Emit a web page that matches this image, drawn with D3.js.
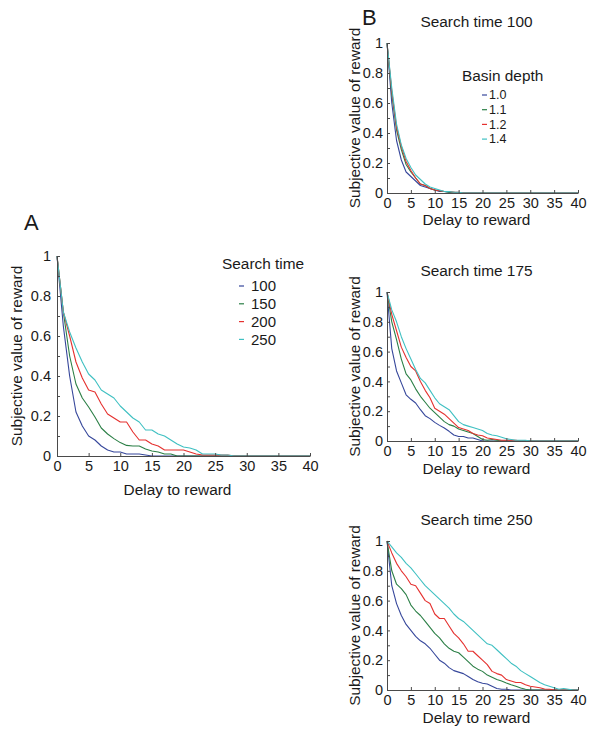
<!DOCTYPE html>
<html>
<head>
<meta charset="utf-8">
<script src="https://cdn.jsdelivr.net/npm/d3@7"></script>
<style>
  html, body { margin: 0; padding: 0; background: #fff; }
  svg { display: block; font-family: "Liberation Sans", Arial, sans-serif; }
  .lab { font-size: 15.4px; fill: #1a1a1a; }
  .leg { font-size: 15px; fill: #1a1a1a; }
  .legs { font-size: 12.5px; fill: #1a1a1a; }
</style>
</head>
<body>
<svg id="chart" width="592" height="734"></svg>
<script>
// ---------------- data ----------------
const delays = [0,1,2,3,4,5,6,7,8,9,10,11,12,13,14,15,16,17,18,19,20,21,22,23,24,25,26,27,28,29,30,31,32,33,34,35,36,37,38,39,40];

const xTicks = [0,5,10,15,20,25,30,35,40];
const yTicks = [0,0.2,0.4,0.6,0.8,1];
const yMinorTicks = [0.1,0.3,0.5,0.7,0.9];

// Panel A: search times
const searchTimes = ["100","150","200","250"];
const A_100 = [1,0.65,0.40,0.22,0.15,0.10,0.08,0.05,0.03,0.02,0.02,0.01,0.01,0.01,0.005,0,0,0,0,0,0,0,0,0,0,0,0,0,0,0,0,0,0,0,0,0,0,0,0,0,0];
const A_150 = [1,0.72,0.50,0.36,0.29,0.245,0.195,0.14,0.11,0.087,0.067,0.053,0.05,0.05,0.035,0.025,0.02,0.01,0.01,0,0,0,0,0,0,0,0,0,0,0,0,0,0,0,0,0,0,0,0,0,0];
const A_200 = [1,0.72,0.60,0.47,0.39,0.33,0.32,0.26,0.21,0.19,0.17,0.17,0.12,0.08,0.08,0.06,0.05,0.03,0.03,0.03,0.03,0.02,0.01,0.005,0.005,0.005,0.005,0.005,0,0,0,0,0,0,0,0,0,0,0,0,0];
const A_250 = [1,0.72,0.62,0.54,0.47,0.41,0.38,0.33,0.31,0.29,0.25,0.22,0.19,0.17,0.13,0.13,0.11,0.10,0.08,0.06,0.045,0.04,0.03,0.01,0.01,0.01,0.005,0.005,0,0,0,0,0,0,0,0,0,0,0,0,0];

// Panel B: basin depths
const basinDepths = ["1.0","1.1","1.2","1.4"];
const B100_10 = [1,0.60,0.35,0.22,0.14,0.11,0.08,0.05,0.04,0.03,0.02,0.01,0.01,0.005,0,0,0,0,0,0,0,0,0,0,0,0,0,0,0,0,0,0,0,0,0,0,0,0,0,0,0];
const B100_11 = [1,0.66,0.42,0.29,0.19,0.14,0.10,0.06,0.05,0.03,0.02,0.015,0.01,0.005,0.005,0,0,0,0,0,0,0,0,0,0,0,0,0,0,0,0,0,0,0,0,0,0,0,0,0,0];
const B100_12 = [1,0.68,0.44,0.31,0.21,0.15,0.10,0.06,0.05,0.03,0.02,0.015,0.01,0.01,0.005,0.005,0,0,0,0,0,0,0,0,0,0,0,0,0,0,0,0,0,0,0,0,0,0,0,0,0];
const B100_14 = [1,0.70,0.46,0.32,0.23,0.17,0.12,0.09,0.06,0.04,0.03,0.02,0.01,0.01,0.005,0.005,0,0,0,0,0,0,0,0,0,0,0,0,0,0,0,0,0,0,0,0,0,0,0,0,0];

const B175_10 = [1,0.62,0.47,0.39,0.31,0.28,0.255,0.21,0.17,0.15,0.125,0.105,0.087,0.065,0.04,0.03,0.03,0.02,0.02,0.01,0,0,0,0,0,0,0,0,0,0,0,0,0,0,0,0,0,0,0,0,0];
const B175_11 = [1,0.80,0.68,0.55,0.45,0.41,0.35,0.30,0.26,0.22,0.19,0.16,0.13,0.11,0.10,0.08,0.07,0.06,0.05,0.03,0.01,0.005,0.01,0.005,0,0,0,0,0,0,0,0,0,0,0,0,0,0,0,0,0];
const B175_12 = [1,0.85,0.74,0.63,0.56,0.50,0.47,0.40,0.34,0.29,0.22,0.20,0.18,0.15,0.12,0.09,0.08,0.07,0.05,0.04,0.035,0.02,0.015,0.01,0.005,0.005,0.005,0.005,0,0,0,0,0,0,0,0,0,0,0,0,0];
const B175_14 = [1,0.88,0.80,0.70,0.62,0.55,0.48,0.42,0.39,0.34,0.29,0.25,0.23,0.21,0.17,0.13,0.11,0.10,0.09,0.08,0.07,0.05,0.04,0.035,0.025,0.015,0.01,0.005,0.005,0.005,0,0,0,0,0,0,0,0,0,0,0];

const B250_10 = [1,0.70,0.58,0.50,0.44,0.40,0.36,0.33,0.31,0.28,0.24,0.20,0.18,0.15,0.13,0.12,0.11,0.09,0.07,0.055,0.045,0.04,0.025,0.01,0.005,0.005,0,0,0,0,0,0,0,0,0,0,0,0,0,0,0];
const B250_11 = [1,0.80,0.71,0.68,0.64,0.57,0.53,0.50,0.46,0.42,0.38,0.35,0.31,0.28,0.26,0.25,0.22,0.19,0.16,0.14,0.125,0.10,0.085,0.07,0.06,0.047,0.035,0.025,0.013,0.005,0,0,0,0,0,0,0,0,0,0,0];
const B250_12 = [1,0.92,0.85,0.80,0.76,0.71,0.70,0.65,0.60,0.58,0.51,0.48,0.48,0.43,0.38,0.35,0.31,0.26,0.26,0.23,0.20,0.17,0.125,0.11,0.10,0.07,0.06,0.05,0.05,0.035,0.025,0.02,0.015,0.007,0.005,0,0,0,0,0,0];
const B250_14 = [1,0.96,0.92,0.89,0.85,0.82,0.78,0.74,0.70,0.67,0.64,0.61,0.58,0.55,0.51,0.48,0.46,0.43,0.40,0.37,0.34,0.31,0.30,0.27,0.24,0.21,0.18,0.16,0.13,0.11,0.09,0.07,0.05,0.035,0.025,0.015,0.005,0.01,0.005,0,0];

const seriesColors = ["#36479b", "#2b7f46", "#e5312f", "#3fc0c2"];

// ---------------- drawing ----------------
const svg = d3.select("#chart");
const TXT = "#1a1a1a";
const AX = "#4a4a4a";

function panel(opts) {
  const { x0, x1, y0, y1, series, title, legend } = opts;
  const x = d3.scaleLinear().domain([0, 40]).range([x0, x1]);
  const y = d3.scaleLinear().domain([0, 1]).range([y1, y0]);
  const g = svg.append("g");

  // lines
  const line = d3.line().x((d, i) => x(delays[i])).y(d => y(d));
  series.forEach((s, i) => {
    g.append("path").datum(s)
      .attr("fill", "none")
      .attr("stroke", seriesColors[i])
      .attr("stroke-width", 1.1)
      .attr("stroke-linejoin", "round")
      .attr("d", line);
  });

  // x axis
  const xa = g.append("g").attr("transform", `translate(0,${y1})`)
    .call(d3.axisBottom(x).tickValues(xTicks).tickSizeInner(-3).tickSizeOuter(0).tickPadding(5).tickFormat(d3.format("d")));
  // y axis minor
  const ym = g.append("g").attr("transform", `translate(${x0},0)`)
    .call(d3.axisLeft(y).tickValues(yMinorTicks).tickSizeInner(-3).tickSizeOuter(0).tickFormat(() => ""));
  ym.select(".domain").remove();
  const ya = g.append("g").attr("transform", `translate(${x0},0)`)
    .call(d3.axisLeft(y).tickValues(yTicks).tickSizeInner(-3).tickSizeOuter(0).tickPadding(opts.yPad).tickFormat(d => d === 0 ? "0" : d === 1 ? "1" : d3.format(".1f")(d)));
  [xa, ym, ya].forEach(a => {
    a.selectAll(".domain").attr("stroke", AX).attr("stroke-width", 1);
    a.selectAll(".tick line").attr("stroke", AX);
    a.selectAll(".tick text").attr("fill", TXT)
      .style("font-family", '"Liberation Sans", Arial, sans-serif')
      .style("font-size", "14.5px");
  });

  // axis labels
  g.append("text").attr("class", "lab")
    .attr("x", (x0 + x1) / 2 - 6).attr("y", y1 + opts.xLabDy)
    .attr("text-anchor", "middle").text("Delay to reward");
  g.append("text").attr("class", "lab")
    .attr("transform", `translate(${opts.yLabX},${(y0 + y1) / 2}) rotate(-90)`)
    .attr("text-anchor", "middle").text("Subjective value of reward");

  if (title) {
    g.append("text").attr("class", "lab")
      .attr("x", (x0 + x1) / 2 - 6).attr("y", y0 - 16)
      .attr("text-anchor", "middle").text(title);
  }

  if (legend) {
    const lg = g.append("g");
    lg.append("text").attr("class", "lab")
      .attr("x", legend.tx).attr("y", legend.ty).text(legend.title);
    legend.labels.forEach((lab, i) => {
      const cy = legend.cy0 + i * legend.step;
      lg.append("line")
        .attr("x1", legend.dx0).attr("x2", legend.dx0 + 5)
        .attr("y1", cy).attr("y2", cy)
        .attr("stroke", seriesColors[i]).attr("stroke-width", 1.2);
      lg.append("text").attr("class", legend.cls)
        .attr("x", legend.lx).attr("y", cy).attr("dy", "0.35em").text(lab);
    });
  }
}

// Panel A
panel({
  x0: 57, x1: 310, y0: 256, y1: 456, yPad: 6, yLabX: 22, xLabDy: 39,
  series: [A_100, A_150, A_200, A_250],
  legend: { title: "Search time", tx: 222, ty: 269, labels: searchTimes, cls: "leg",
            cy0: 286, step: 17.8, dx0: 239, lx: 251 }
});

// Panel B
panel({
  x0: 387, x1: 578, y0: 43, y1: 193, yPad: 4, yLabX: 360, xLabDy: 32,
  title: "Search time 100",
  series: [B100_10, B100_11, B100_12, B100_14],
  legend: { title: "Basin depth", tx: 462, ty: 81, labels: basinDepths, cls: "legs",
            cy0: 95, step: 14.7, dx0: 482, lx: 489 }
});
panel({
  x0: 387, x1: 578, y0: 292, y1: 441, yPad: 4, yLabX: 360, xLabDy: 33,
  title: "Search time 175",
  series: [B175_10, B175_11, B175_12, B175_14]
});
panel({
  x0: 387, x1: 578, y0: 541, y1: 690, yPad: 4, yLabX: 360, xLabDy: 33,
  title: "Search time 250",
  series: [B250_10, B250_11, B250_12, B250_14]
});

// Panel letters
svg.append("text").attr("x", 24).attr("y", 230).style("font-size", "22px").attr("fill", TXT).text("A");
svg.append("text").attr("x", 362).attr("y", 25).style("font-size", "22px").attr("fill", TXT).text("B");
</script>
</body>
</html>
